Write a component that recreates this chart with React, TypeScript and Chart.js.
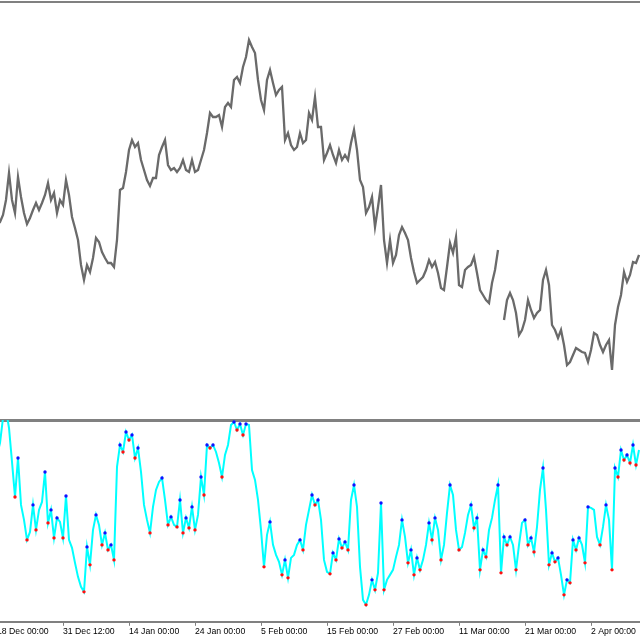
import React, { useEffect, useRef } from 'react';
import { Chart, registerables } from 'chart.js';

Chart.register(...registerables);

// Price series (one value every 3 bars), arbitrary price units
const priceValues: (number | null)[] = [
  195, 198, 205, 220, 247, 220, 207, 243, 223, 207,
  196, 202, 210, 217, 210, 217, 225, 237, 220, 227,
  207, 220, 215, 240, 225, 203, 192, 180, 155, 140,
  155, 148, 162, 182, 178, 168, 162, 157, 157, 153,
  180, 230, 232, 248, 270, 280, 273, 277, 260, 250,
  240, 234, 242, 242, 265, 273, 280, 255, 250, 252,
  248, 252, 260, 250, 248, 260, 248, 250, 260, 270,
  287, 307, 303, 303, 305, 293, 313, 317, 313, 340,
  343, 337, 353, 363, 380, 373, 367, 340, 320, 310,
  340, 350, 337, 325, 330, 333, 280, 287, 275, 270,
  273, 287, 277, 280, 307, 300, 323, 293, 293, 260,
  267, 275, 265, 257, 270, 260, 265, 260, 277, 290,
  270, 240, 233, 207, 213, 223, 193, 213, 235, 180,
  157, 180, 157, 165, 185, 193, 187, 180, 162, 148,
  137, 140, 143, 150, 160, 153, 158, 147, 132, 130,
  153, 177, 167, 183, 135, 133, 150, 153, 155, 163,
  147, 130, 125, 120, 117, 137, 150, 170, null, 100,
  120, 127, 120, 107, 85, 90, 100, 120, 110, 102,
  107, 110, 140, 150, 135, 95, 90, 82, 90, 75,
  55, 58, 65, 72, 70, 68, 67, 58, 70, 87,
  85, 75, 68, 75, 80, 50, 95, 113, 125, 148,
  138, 145, 158, 157, 165,
];

// Oscillator series (0..100)
const oscValues: number[] = [
  83.5, 89.5, 102, 106, 97, 80, 62.5, 82, 58.5, 51,
  41, 45, 58.5, 46, 56, 60, 75, 49.5, 56, 42,
  52, 50, 42, 63, 41, 37, 29.5, 22.5, 17.5, 15,
  37.5, 28.5, 46, 53.5, 48.5, 38.5, 44.5, 36, 38.5, 31,
  77.5, 88.5, 85, 95, 91, 93.5, 82, 87, 75, 58.5,
  51, 44.5, 57.5, 66, 70, 72, 61, 48.5, 52.5, 48.5,
  47.5, 61, 44.5, 52, 47, 57.5, 46, 53.5, 72.5, 63.5,
  88.5, 87, 88.5, 85, 79.5, 72.5, 83.5, 88.5, 98.5, 100,
  96, 99, 93.5, 99, 98.5, 76, 71, 61, 46, 27.5,
  43.5, 50, 38.5, 33.5, 30, 23.5, 31, 22, 32, 33.5,
  38.5, 41, 36, 48.5, 56, 63.5, 58.5, 61, 51, 31,
  25, 24, 34.5, 31, 41.5, 37, 40, 36, 61, 68.5,
  57.5, 27.5, 11, 8.5, 13.5, 21, 16, 24.5, 59.5, 16,
  21, 23.5, 26, 32.5, 38.5, 51, 42.5, 29.5, 36, 23.5,
  32, 26, 31, 38.5, 49.5, 41, 52, 46, 31, 38.5,
  54.5, 68.5, 63.5, 46, 36, 37.5, 44.5, 53.5, 58.5, 47,
  52, 26, 36, 32.5, 46, 52, 61, 68.5, 24.5, 42.5,
  38.5, 42.5, 38.5, 26, 38.5, 49.5, 51, 38.5, 42, 35,
  47.5, 66, 77, 56, 28.5, 34.5, 30, 32, 23.5, 13.5,
  21, 19.5, 41, 36, 42, 38.5, 29.5, 57.5, 57, 56,
  42.5, 38.5, 47.5, 58.5, 51, 26, 77, 72.5, 86, 81,
  83.5, 79.5, 88.5, 78.5, 86,
];

// Time axis: sample index of each date label
const tickIndices: number[] = [0, 22, 44, 66, 88, 110, 132, 154, 176, 198];
const tickLabels: string[] = [
  '18 Dec 00:00', '31 Dec 12:00', '14 Jan 00:00', '24 Jan 00:00', '5 Feb 00:00',
  '15 Feb 00:00', '27 Feb 00:00', '11 Mar 00:00', '21 Mar 00:00', '2 Apr 00:00',
];

const X_MIN = 0;
const X_MAX = 214.33;
const PRICE_MIN = 2;
const PRICE_MAX = 418;
const OSC_MIN = 0;
const OSC_MAX = 101;

const AXIS_GRAY = '#808080';
const FONT_FAMILY = '"Liberation Sans", Arial, sans-serif';

const zeroPad = (s: any) => {
  s.paddingLeft = 0;
  s.paddingRight = 0;
};

export default function App() {
  const topRef = useRef<HTMLCanvasElement>(null);
  const botRef = useRef<HTMLCanvasElement>(null);

  useEffect(() => {
    const pricePoints = priceValues.map((v, i) => ({ x: i, y: v }));
    const oscPoints = oscValues.map((v, i) => ({ x: i, y: v }));
    const marker = oscValues.map((v, i) => {
      const p = oscValues[i - 1];
      const n = oscValues[i + 1];
      if (p === undefined || n === undefined) return 0;
      if (v > p && v >= n) return 1;
      if (v < p && v <= n) return -1;
      return 0;
    });

    const c1 = new Chart(topRef.current!, {
      type: 'line',
      data: {
        datasets: [
          {
            data: pricePoints as any,
            borderColor: '#6a6a6a',
            borderWidth: 2.3,
            pointRadius: 0,
            tension: 0,
            spanGaps: false,
          },
        ],
      },
      options: {
        animation: false,
        responsive: false,
        maintainAspectRatio: false,
        events: [],
        layout: { padding: { top: 2, bottom: 0, left: 0, right: 0 } },
        plugins: { legend: { display: false }, tooltip: { enabled: false } },
        scales: {
          x: {
            type: 'linear',
            position: 'top',
            min: X_MIN,
            max: X_MAX,
            ticks: { display: false },
            grid: { display: false, drawTicks: false },
            border: { display: true, color: AXIS_GRAY, width: 2 },
            afterFit: zeroPad,
          },
          y: { display: false, min: PRICE_MIN, max: PRICE_MAX },
        },
      },
    });

    const c2 = new Chart(botRef.current!, {
      type: 'line',
      data: {
        datasets: [
          {
            data: oscPoints as any,
            borderColor: '#00ffff',
            borderWidth: 2,
            tension: 0,
            clip: 0,
            pointRadius: (ctx: any) => (marker[ctx.dataIndex] !== 0 ? 1.7 : 0),
            pointBackgroundColor: (ctx: any) =>
              marker[ctx.dataIndex] > 0 ? '#1010ff' : '#ff1010',
            pointBorderWidth: 0,
            pointBorderColor: 'rgba(0,0,0,0)',
          } as any,
        ],
      },
      options: {
        animation: false,
        responsive: false,
        maintainAspectRatio: false,
        events: [],
        layout: { padding: { top: 2, bottom: 2, left: 0, right: 0 } },
        plugins: { legend: { display: false }, tooltip: { enabled: false } },
        scales: {
          x: {
            type: 'linear',
            position: 'bottom',
            min: X_MIN,
            max: X_MAX,
            afterBuildTicks: (s: any) => {
              s.ticks = tickIndices.map((v) => ({ value: v }));
            },
            afterFit: zeroPad,
            ticks: {
              autoSkip: false,
              maxRotation: 0,
              minRotation: 0,
              align: 'start',
              padding: 0,
              color: '#000000',
              font: { family: FONT_FAMILY, size: 8.7, lineHeight: 1.4 },
              callback: (value: any) => {
                const k = tickIndices.indexOf(Number(value));
                return k >= 0 ? tickLabels[k] : '';
              },
            },
            grid: {
              display: true,
              drawOnChartArea: false,
              drawTicks: true,
              tickLength: 4,
              tickColor: AXIS_GRAY,
              tickWidth: 1,
            },
            border: { display: true, color: AXIS_GRAY, width: 2 },
          },
          xTop: {
            type: 'linear',
            axis: 'x',
            position: 'top',
            min: X_MIN,
            max: X_MAX,
            ticks: { display: false },
            grid: { display: false, drawTicks: false },
            border: { display: true, color: AXIS_GRAY, width: 3 },
            afterFit: zeroPad,
          } as any,
          y: { display: false, min: OSC_MIN, max: OSC_MAX },
        },
      },
    });

    return () => {
      c1.destroy();
      c2.destroy();
    };
  }, []);

  return (
    <div
      style={{
        position: 'fixed',
        left: 0,
        top: 0,
        width: 640,
        height: 640,
        overflow: 'hidden',
        background: '#ffffff',
      }}
    >
      <canvas
        ref={topRef}
        width={643}
        height={418}
        style={{ position: 'absolute', left: -3, top: 0, width: 643, height: 418 }}
      />
      <canvas
        ref={botRef}
        width={643}
        height={222}
        style={{ position: 'absolute', left: -3, top: 418, width: 643, height: 222 }}
      />
    </div>
  );
}
